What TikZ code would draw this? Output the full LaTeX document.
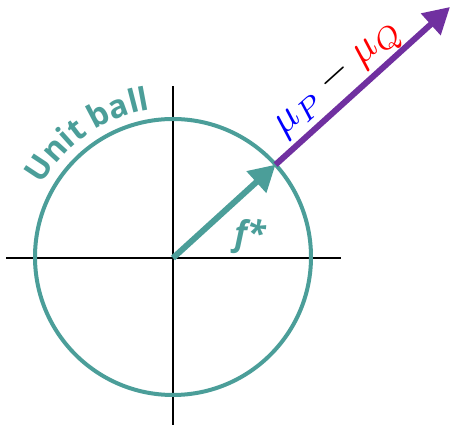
\documentclass[tikz,border=0pt]{standalone}
\usepackage{fontspec}
\newfontfamily\lblfont{Open Sans}
\usetikzlibrary{arrows.meta,decorations.text,calc}
\definecolor{tealc}{HTML}{4B9E99}
\definecolor{purplec}{HTML}{7030A0}
\tikzset{
  axis/.style={black, line width=1.8pt},
  ball/.style={tealc, line width=4pt},
  bigarrow/.style={line width=6pt, -{Triangle[length=26pt,width=28pt]}},
}
\begin{document}
\begin{tikzpicture}[x=1pt,y=1pt]
\useasboundingbox (0,0) rectangle (453,425);
\coordinate (O) at (173,167);
\coordinate (C) at (173,168);
\coordinate (xl) at (6,167);
\coordinate (xr) at (341,167);
\coordinate (yb) at (173,0);
\coordinate (yt) at (173,339);
\coordinate (P) at ($(C)+(42:138)$);
\coordinate (T) at (450,418);
\draw[axis] (xl) -- (xr);
\draw[axis] (yb) -- (yt);
\draw[ball] (C) circle[radius=138];
\draw[bigarrow, purplec] (P) -- (T);
\draw[bigarrow, tealc] (O) -- (P);
\path[decorate, decoration={text along path, text align=center,
  text={|\lblfont\bfseries\fontsize{32}{34}\selectfont\color{tealc}|Unit ball}}]
  ($(C)+(165:149)$) arc[start angle=165, end angle=85, radius=149];
\node[rotate=42] (mu) at (338,346) {\scalebox{4.2}{$\textcolor{blue}{\mu_P} - \textcolor{red}{\mu_Q}$}};
\node[text=tealc] (f) at (250,188) {\lblfont\bfseries\itshape\fontsize{34}{36}\selectfont f*};
\end{tikzpicture}
\end{document}
